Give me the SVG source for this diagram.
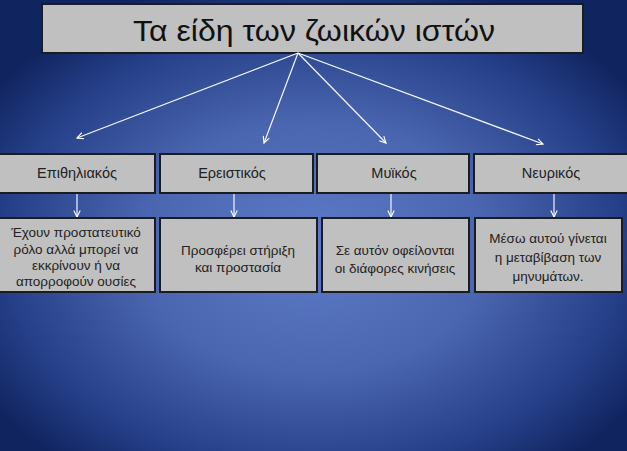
<svg xmlns="http://www.w3.org/2000/svg" width="627" height="451" viewBox="0 0 627 451">
<defs>
<radialGradient id="bg" cx="50%" cy="55%" r="62%">
<stop offset="0" stop-color="#5d7bc8"/>
<stop offset="0.45" stop-color="#4b66b0"/>
<stop offset="0.8" stop-color="#253f88"/>
<stop offset="1" stop-color="#10245f"/>
</radialGradient>
<marker id="ah" viewBox="0 0 10 10" refX="9" refY="5" markerWidth="8" markerHeight="8" markerUnits="userSpaceOnUse" orient="auto">
<path d="M1,1 L9,5 L1,9" fill="none" stroke="#ffffff" stroke-width="1.4"/>
</marker>
</defs>
<style>
.box{fill:#c0c0c0;stroke:#1b1b22;stroke-width:2}
.t{font-family:"Liberation Sans",Arial,sans-serif;font-size:13.5px;fill:#222;text-anchor:middle}
.h{font-family:"Liberation Sans",Arial,sans-serif;font-size:14.5px;fill:#222;text-anchor:middle}
.ttl{font-family:"Liberation Sans",Arial,sans-serif;font-size:30px;fill:#111;text-anchor:middle}
.c{stroke:#f4f6ff;stroke-width:1.2;fill:none;marker-end:url(#ah)}
</style>
<rect x="0" y="0" width="627" height="451" fill="url(#bg)"/>
<g id="title">
<rect class="box" x="42" y="4" width="541" height="49"/>
<text class="ttl" x="314" y="41" textLength="362" lengthAdjust="spacingAndGlyphs">Τα είδη των ζωικών ιστών</text>
</g>
<g id="connectors">
<line class="c" x1="298" y1="53" x2="77" y2="138"/>
<line class="c" x1="298" y1="53" x2="264" y2="143"/>
<line class="c" x1="298" y1="53" x2="386" y2="143"/>
<line class="c" x1="298" y1="53" x2="543" y2="144"/>
<line class="c" x1="77" y1="193" x2="77" y2="217"/>
<line class="c" x1="234" y1="193" x2="234" y2="217"/>
<line class="c" x1="391" y1="193" x2="391" y2="217"/>
<line class="c" x1="554" y1="193" x2="554" y2="217"/>
</g>
<g id="epithiliakos">
<rect class="box" x="-3" y="154" width="158" height="39"/>
<text class="h" x="77" y="178">Επιθηλιακός</text>
</g>
<g id="ereistikos">
<rect class="box" x="160" y="154" width="153" height="39"/>
<text class="h" x="232" y="178">Ερειστικός</text>
</g>
<g id="myikos">
<rect class="box" x="317" y="154" width="152" height="39"/>
<text class="h" x="394" y="178">Μυϊκός</text>
</g>
<g id="neurikos">
<rect class="box" x="474" y="154" width="156" height="39"/>
<text class="h" x="551" y="178">Νευρικός</text>
</g>
<g id="epithiliakos-desc">
<rect class="box" x="-3" y="218" width="158" height="74"/>
<text class="t" x="76" y="237">Έχουν προστατευτικό</text>
<text class="t" x="76" y="254">ρόλο αλλά μπορεί να</text>
<text class="t" x="76" y="270">εκκρίνουν ή να</text>
<text class="t" x="76" y="286">απορροφούν ουσίες</text>
</g>
<g id="ereistikos-desc">
<rect class="box" x="160" y="218" width="157" height="74"/>
<text class="t" x="238" y="255">Προσφέρει στήριξη</text>
<text class="t" x="238" y="272">και προστασία</text>
</g>
<g id="myikos-desc">
<rect class="box" x="322" y="218" width="147" height="74"/>
<text class="t" x="395" y="255">Σε αυτόν οφείλονται</text>
<text class="t" x="395" y="273">οι διάφορες κινήσεις</text>
</g>
<g id="neurikos-desc">
<rect class="box" x="475" y="218" width="147" height="74"/>
<text class="t" x="548" y="243">Μέσω αυτού γίνεται</text>
<text class="t" x="548" y="262">η μεταβίβαση των</text>
<text class="t" x="548" y="281">μηνυμάτων.</text>
</g>
</svg>
